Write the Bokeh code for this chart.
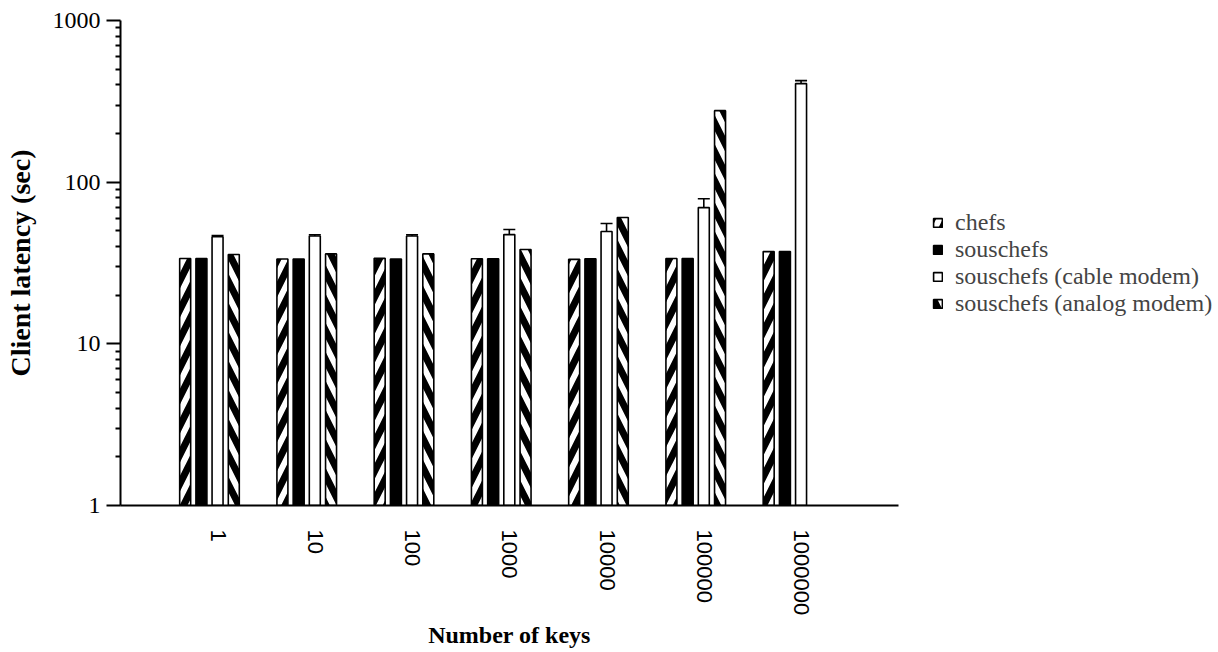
import math
from bokeh.plotting import figure
from bokeh.models import (ColumnDataSource, FixedTicker, Whisker, TeeHead, Legend,
                          LegendItem, PrintfTickFormatter, Range1d, CustomJSTickFormatter)
from bokeh.transform import dodge
from bokeh.embed import file_html
from bokeh.resources import INLINE

categories = ["1", "10", "100", "1000", "10000", "100000", "1000000"]
series_names = ["chefs", "souschefs", "souschefs (cable modem)", "souschefs (analog modem)"]
chefs = [33.7, 33.5, 33.8, 33.6, 33.3, 33.7, 37.2]
souschefs = [33.7, 33.5, 33.5, 33.6, 33.6, 33.7, 37.2]
cable = [46.0, 46.5, 46.5, 47.4, 49.5, 69.6, 407.0]
cable_err = [0.8, 0.8, 0.8, 3.6, 6.0, 9.4, 18.0]
analog = [35.7, 36.0, 36.0, 38.3, 60.4, 277.0, float("nan")]
y_ticks = [1, 10, 100, 1000]

xs = list(range(len(categories)))
src = ColumnDataSource(dict(
    x=xs, chefs=chefs, souschefs=souschefs, cable=cable, analog=analog,
    cable_hi=[c + e for c, e in zip(cable, cable_err)],
))

p = figure(frame_width=778, frame_height=485, y_axis_type="log",
           x_range=Range1d(-0.915, len(categories) + 0.085),
           y_range=Range1d(1, 1000),
           output_backend="svg", toolbar_location=None,
           min_border_left=120, min_border_right=312,
           min_border_top=20, min_border_bottom=139)

p.outline_line_color = None
p.xgrid.visible = False
p.ygrid.visible = False

W = 0.113
LW = 1.6
HS = 29
HW = 6
r_chefs = p.vbar(x=dodge("x", -0.25), top="chefs", bottom=1, width=W, source=src,
                 fill_color="black", line_color="black", line_width=LW,
                 hatch_pattern="/", hatch_color="white", hatch_scale=HS, hatch_weight=HW)
r_sous = p.vbar(x=dodge("x", -0.083), top="souschefs", bottom=1, width=W, source=src,
                fill_color="black", line_color="black", line_width=LW)
r_cable = p.vbar(x=dodge("x", 0.083), top="cable", bottom=1, width=W, source=src,
                 fill_color="white", line_color="black", line_width=LW)
r_analog = p.vbar(x=dodge("x", 0.25), top="analog", bottom=1, width=W, source=src,
                  fill_color="black", line_color="black", line_width=LW,
                  hatch_pattern="\\", hatch_color="white", hatch_scale=HS, hatch_weight=HW)

wh = Whisker(base=dodge("x", 0.083), lower="cable", upper="cable_hi", source=src,
             line_color="black", line_width=1.6,
             upper_head=TeeHead(size=12, line_color="black", line_width=1.6),
             lower_head=None)
p.add_layout(wh)

# y axis
yax = p.yaxis[0]
minors = [m * t for t in y_ticks[:-1] for m in range(2, 10)]
yax.ticker = FixedTicker(ticks=y_ticks, minor_ticks=minors)
yax.formatter = PrintfTickFormatter(format="%d")
yax.major_label_text_font = "Liberation Serif"
yax.major_label_text_font_size = "24px"
yax.major_label_text_color = "black"
yax.major_tick_out = 14
yax.major_tick_in = 0
yax.minor_tick_out = 5
yax.minor_tick_in = 0
yax.major_label_standoff = 6
yax.axis_line_width = 2
yax.major_tick_line_width = 2
yax.minor_tick_line_width = 2
yax.axis_label = "Client latency (sec)"
yax.axis_label_text_font = "Liberation Serif"
yax.axis_label_text_font_style = "bold"
yax.axis_label_text_font_size = "28px"
yax.axis_label_text_color = "black"
yax.axis_label_standoff = 14

# x axis (labels sit with their baseline on the group centre)
xax = p.xaxis[0]
shift = 0.09
xax.ticker = FixedTicker(ticks=[i + shift for i in xs])
xax.formatter = CustomJSTickFormatter(args=dict(labels=categories),
                                      code="return labels[Math.round(tick)];")
xax.major_label_orientation = -math.pi / 2
xax.major_label_text_font = "Liberation Sans"
xax.major_label_text_font_size = "22px"
xax.major_label_text_color = "black"
xax.major_tick_line_color = None
xax.minor_tick_line_color = None
xax.major_tick_out = 0
xax.major_tick_in = 0
xax.major_label_standoff = 24
xax.axis_line_width = 2
xax.axis_label = "Number of keys"
xax.axis_label_text_font = "Liberation Serif"
xax.axis_label_text_font_style = "bold"
xax.axis_label_text_font_size = "24px"
xax.axis_label_text_color = "black"
xax.axis_label_standoff = 4

legend = Legend(items=[
    LegendItem(label=series_names[0], renderers=[r_chefs]),
    LegendItem(label=series_names[1], renderers=[r_sous]),
    LegendItem(label=series_names[2], renderers=[r_cable]),
    LegendItem(label=series_names[3], renderers=[r_analog]),
], location="left", margin=34, padding=0, spacing=0,
    border_line_color=None, background_fill_alpha=0,
    glyph_width=11, glyph_height=11, label_standoff=12, label_height=25,
    label_text_font="Liberation Serif", label_text_font_size="24px")
p.add_layout(legend, "right")

open("out.html", "w").write(file_html(p, INLINE))
